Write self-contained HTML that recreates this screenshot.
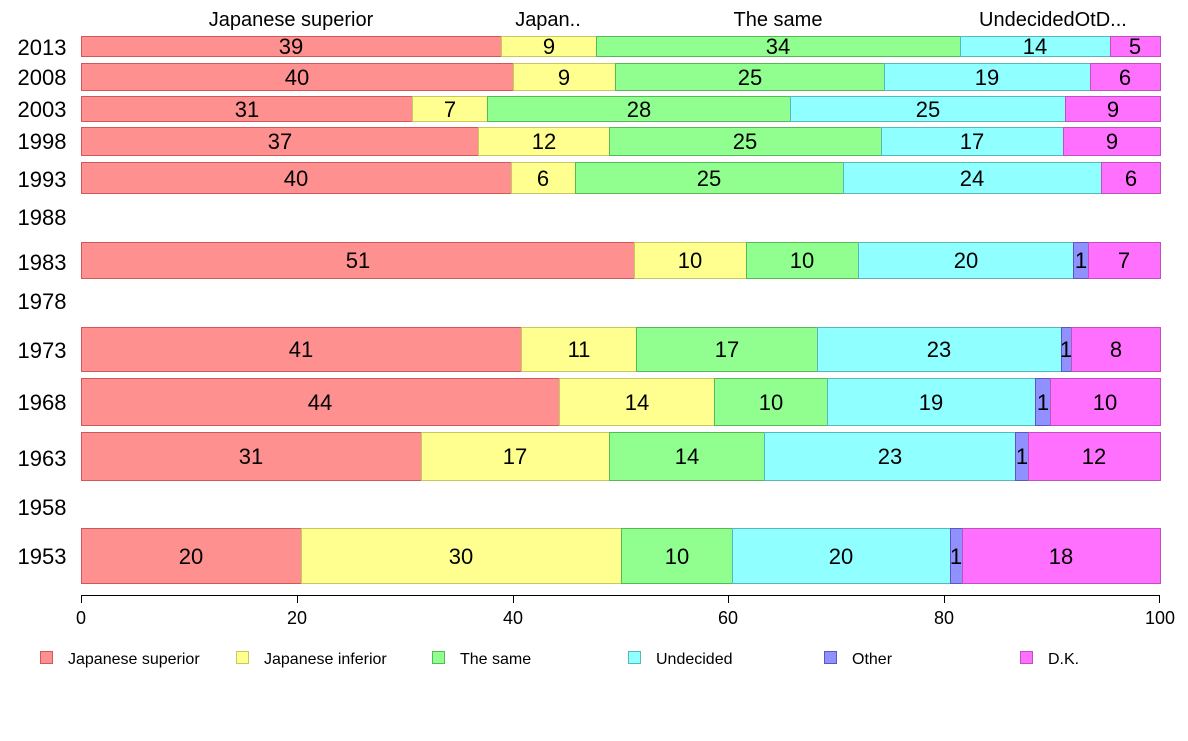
<!DOCTYPE html>
<html><head><meta charset="utf-8"><style>
body{margin:0;background:#fff}
text{font-family:"Liberation Sans",Arial,sans-serif}
.a{fill:#FF9090;stroke:#d05858}
.b{fill:#FFFF90;stroke:#c8c860}
.c{fill:#90FF90;stroke:#58b858}
.d{fill:#90FFFF;stroke:#58b8b8}
.e{fill:#9090FF;stroke:#5858c0}
.f{fill:#FF70FF;stroke:#c050c0}
</style></head><body>
<svg width="1188" height="736" xmlns="http://www.w3.org/2000/svg">
<g font-size="20" fill="#000">
<text x="291" y="26" text-anchor="middle">Japanese superior</text>
<text x="548" y="26" text-anchor="middle">Japan..</text>
<text x="778" y="26" text-anchor="middle">The same</text>
<text x="979" y="26">UndecidedOtD...</text>
</g>
<g font-size="22" text-anchor="middle">
<text x="42" y="55">2013</text>
<text x="42" y="85">2008</text>
<text x="42" y="117">2003</text>
<text x="42" y="149">1998</text>
<text x="42" y="187">1993</text>
<text x="42" y="225">1988</text>
<text x="42" y="270">1983</text>
<text x="42" y="309">1978</text>
<text x="42" y="358">1973</text>
<text x="42" y="410">1968</text>
<text x="42" y="466">1963</text>
<text x="42" y="515">1958</text>
<text x="42" y="564">1953</text>
</g>
<g>
<rect class="a" x="81.5" y="36.5" width="420" height="20"/><rect class="b" x="501.5" y="36.5" width="95" height="20"/><rect class="c" x="596.5" y="36.5" width="364" height="20"/><rect class="d" x="960.5" y="36.5" width="150" height="20"/><rect class="f" x="1110.5" y="36.5" width="50" height="20"/>
<rect class="a" x="81.5" y="63.5" width="432" height="27"/><rect class="b" x="513.5" y="63.5" width="102" height="27"/><rect class="c" x="615.5" y="63.5" width="269" height="27"/><rect class="d" x="884.5" y="63.5" width="206" height="27"/><rect class="f" x="1090.5" y="63.5" width="70" height="27"/>
<rect class="a" x="81.5" y="96.5" width="331" height="25"/><rect class="b" x="412.5" y="96.5" width="75" height="25"/><rect class="c" x="487.5" y="96.5" width="303" height="25"/><rect class="d" x="790.5" y="96.5" width="275" height="25"/><rect class="f" x="1065.5" y="96.5" width="95" height="25"/>
<rect class="a" x="81.5" y="127.5" width="397" height="28"/><rect class="b" x="478.5" y="127.5" width="131" height="28"/><rect class="c" x="609.5" y="127.5" width="272" height="28"/><rect class="d" x="881.5" y="127.5" width="182" height="28"/><rect class="f" x="1063.5" y="127.5" width="97" height="28"/>
<rect class="a" x="81.5" y="162.5" width="430" height="31"/><rect class="b" x="511.5" y="162.5" width="64" height="31"/><rect class="c" x="575.5" y="162.5" width="268" height="31"/><rect class="d" x="843.5" y="162.5" width="258" height="31"/><rect class="f" x="1101.5" y="162.5" width="59" height="31"/>
<rect class="a" x="81.5" y="242.5" width="553" height="36"/><rect class="b" x="634.5" y="242.5" width="112" height="36"/><rect class="c" x="746.5" y="242.5" width="112" height="36"/><rect class="d" x="858.5" y="242.5" width="215" height="36"/><rect class="e" x="1073.5" y="242.5" width="15" height="36"/><rect class="f" x="1088.5" y="242.5" width="72" height="36"/>
<rect class="a" x="81.5" y="327.5" width="440" height="44"/><rect class="b" x="521.5" y="327.5" width="115" height="44"/><rect class="c" x="636.5" y="327.5" width="181" height="44"/><rect class="d" x="817.5" y="327.5" width="244" height="44"/><rect class="e" x="1061.5" y="327.5" width="10" height="44"/><rect class="f" x="1071.5" y="327.5" width="89" height="44"/>
<rect class="a" x="81.5" y="378.5" width="478" height="47"/><rect class="b" x="559.5" y="378.5" width="155" height="47"/><rect class="c" x="714.5" y="378.5" width="113" height="47"/><rect class="d" x="827.5" y="378.5" width="208" height="47"/><rect class="e" x="1035.5" y="378.5" width="15" height="47"/><rect class="f" x="1050.5" y="378.5" width="110" height="47"/>
<rect class="a" x="81.5" y="432.5" width="340" height="48"/><rect class="b" x="421.5" y="432.5" width="188" height="48"/><rect class="c" x="609.5" y="432.5" width="155" height="48"/><rect class="d" x="764.5" y="432.5" width="251" height="48"/><rect class="e" x="1015.5" y="432.5" width="13" height="48"/><rect class="f" x="1028.5" y="432.5" width="132" height="48"/>
<rect class="a" x="81.5" y="528.5" width="220" height="55"/><rect class="b" x="301.5" y="528.5" width="320" height="55"/><rect class="c" x="621.5" y="528.5" width="111" height="55"/><rect class="d" x="732.5" y="528.5" width="218" height="55"/><rect class="e" x="950.5" y="528.5" width="12" height="55"/><rect class="f" x="962.5" y="528.5" width="198" height="55"/>
</g>
<g font-size="22" text-anchor="middle">
<text x="291" y="54">39</text><text x="549" y="54">9</text><text x="778" y="54">34</text><text x="1035" y="54">14</text><text x="1135" y="54">5</text>
<text x="297" y="85">40</text><text x="564" y="85">9</text><text x="750" y="85">25</text><text x="987" y="85">19</text><text x="1125" y="85">6</text>
<text x="247" y="117">31</text><text x="450" y="117">7</text><text x="639" y="117">28</text><text x="928" y="117">25</text><text x="1113" y="117">9</text>
<text x="280" y="149">37</text><text x="544" y="149">12</text><text x="745" y="149">25</text><text x="972" y="149">17</text><text x="1112" y="149">9</text>
<text x="296" y="186">40</text><text x="543" y="186">6</text><text x="709" y="186">25</text><text x="972" y="186">24</text><text x="1131" y="186">6</text>
<text x="358" y="268">51</text><text x="690" y="268">10</text><text x="802" y="268">10</text><text x="966" y="268">20</text><text x="1081" y="268">1</text><text x="1124" y="268">7</text>
<text x="301" y="357">41</text><text x="579" y="357">11</text><text x="727" y="357">17</text><text x="939" y="357">23</text><text x="1066" y="357">1</text><text x="1116" y="357">8</text>
<text x="320" y="410">44</text><text x="637" y="410">14</text><text x="771" y="410">10</text><text x="931" y="410">19</text><text x="1043" y="410">1</text><text x="1105" y="410">10</text>
<text x="251" y="464">31</text><text x="515" y="464">17</text><text x="687" y="464">14</text><text x="890" y="464">23</text><text x="1022" y="464">1</text><text x="1094" y="464">12</text>
<text x="191" y="564">20</text><text x="461" y="564">30</text><text x="677" y="564">10</text><text x="841" y="564">20</text><text x="956" y="564">1</text><text x="1061" y="564">18</text>
</g>
<g stroke="#000" stroke-width="1">
<line x1="81" y1="595.5" x2="1160" y2="595.5"/>
<line x1="81.5" y1="595" x2="81.5" y2="603"/>
<line x1="297.5" y1="595" x2="297.5" y2="603"/>
<line x1="513.5" y1="595" x2="513.5" y2="603"/>
<line x1="728.5" y1="595" x2="728.5" y2="603"/>
<line x1="944.5" y1="595" x2="944.5" y2="603"/>
<line x1="1159.5" y1="595" x2="1159.5" y2="603"/>
</g>
<g font-size="18" text-anchor="middle">
<text x="81" y="624">0</text><text x="297" y="624">20</text><text x="513" y="624">40</text>
<text x="728" y="624">60</text><text x="944" y="624">80</text><text x="1160" y="624">100</text>
</g>
<g font-size="16">
<rect class="a" x="40.5" y="651.5" width="12" height="12"/><text x="68" y="664">Japanese superior</text>
<rect class="b" x="236.5" y="651.5" width="12" height="12"/><text x="264" y="664">Japanese inferior</text>
<rect class="c" x="432.5" y="651.5" width="12" height="12"/><text x="460" y="664">The same</text>
<rect class="d" x="628.5" y="651.5" width="12" height="12"/><text x="656" y="664">Undecided</text>
<rect class="e" x="824.5" y="651.5" width="12" height="12"/><text x="852" y="664">Other</text>
<rect class="f" x="1020.5" y="651.5" width="12" height="12"/><text x="1048" y="664">D.K.</text>
</g>
</svg>
</body></html>
